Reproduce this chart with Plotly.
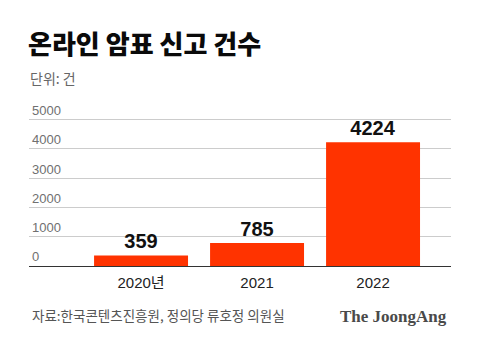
import plotly.graph_objects as go

years = ["2020년", "2021", "2022"]
counts = [359, 785, 4224]
y_ticks = [0, 1000, 2000, 3000, 4000, 5000]

W, H = 480, 343
L, R, B = 29, 29, 77
Y_TOP = 5600
T = 266 - (266 - 120) * Y_TOP / 5000

fig = go.Figure()
fig.add_trace(go.Bar(
    x=list(range(len(years))),
    y=counts,
    marker=dict(color="#ff3300", line=dict(width=0)),
    width=0.81,
    text=[str(v) for v in counts],
    textposition="outside",
    textfont=dict(family="Liberation Sans, Arial, sans-serif", size=20, color="#111111", weight="bold"),
    cliponaxis=False,
    hoverinfo="skip",
))

fig.update_layout(
    width=W, height=H,
    margin=dict(l=L, r=R, t=T, b=B, pad=0),
    paper_bgcolor="white",
    plot_bgcolor="white",
    showlegend=False,
    font=dict(family="Liberation Sans, Noto Sans CJK KR, sans-serif"),
    title=dict(
        text="온라인 암표 신고 건수",
        font=dict(family="Noto Sans CJK KR", size=26, color="#0a0a0a", weight=900),
        x=28 / W, xanchor="left", xref="container",
        y=1 - 45 / H, yanchor="middle", yref="container",
    ),
    xaxis=dict(
        range=[-0.966, 2.672],
        tickmode="array",
        tickvals=list(range(len(years))),
        ticktext=years,
        tickfont=dict(family="Liberation Sans, Noto Sans CJK KR, sans-serif", size=15, color="#222222"),
        ticklabelstandoff=6,
        showgrid=False,
        zeroline=False,
        showline=False,
        ticks="",
    ),
    yaxis=dict(
        range=[0, Y_TOP],
        tickmode="array",
        tickvals=y_ticks,
        ticktext=[str(v) for v in y_ticks],
        ticklabelposition="inside top",
        tickfont=dict(family="Liberation Sans, Arial, sans-serif", size=13, color="#707070"),
        showgrid=True,
        gridcolor="#cccccc",
        gridwidth=1,
        zeroline=True,
        zerolinecolor="#333333",
        zerolinewidth=1,
        showline=False,
        ticks="",
    ),
)

notes = [
    dict(text="단위: 건", px=28, py=79, anchor="left",
         font=dict(family="Noto Sans CJK KR", size=14, color="#666666")),
    dict(text="자료:한국콘텐츠진흥원, 정의당 류호정 의원실", px=30, py=315, anchor="left",
         font=dict(family="Noto Sans CJK KR", size=13.5, color="#555555")),
    dict(text="<b>The JoongAng</b>", px=449, py=316, anchor="right",
         font=dict(family="Liberation Serif, DejaVu Serif, serif", size=17, color="#4a4a4a")),
]
pw, ph = W - L - R, H - T - B
for n in notes:
    fig.add_annotation(
        text=n["text"], xref="paper", yref="paper",
        x=(n["px"] - L) / pw, y=1 - (n["py"] - T) / ph,
        xanchor=n["anchor"], yanchor="middle", showarrow=False, font=n["font"],
    )

fig.write_html("out.html")
